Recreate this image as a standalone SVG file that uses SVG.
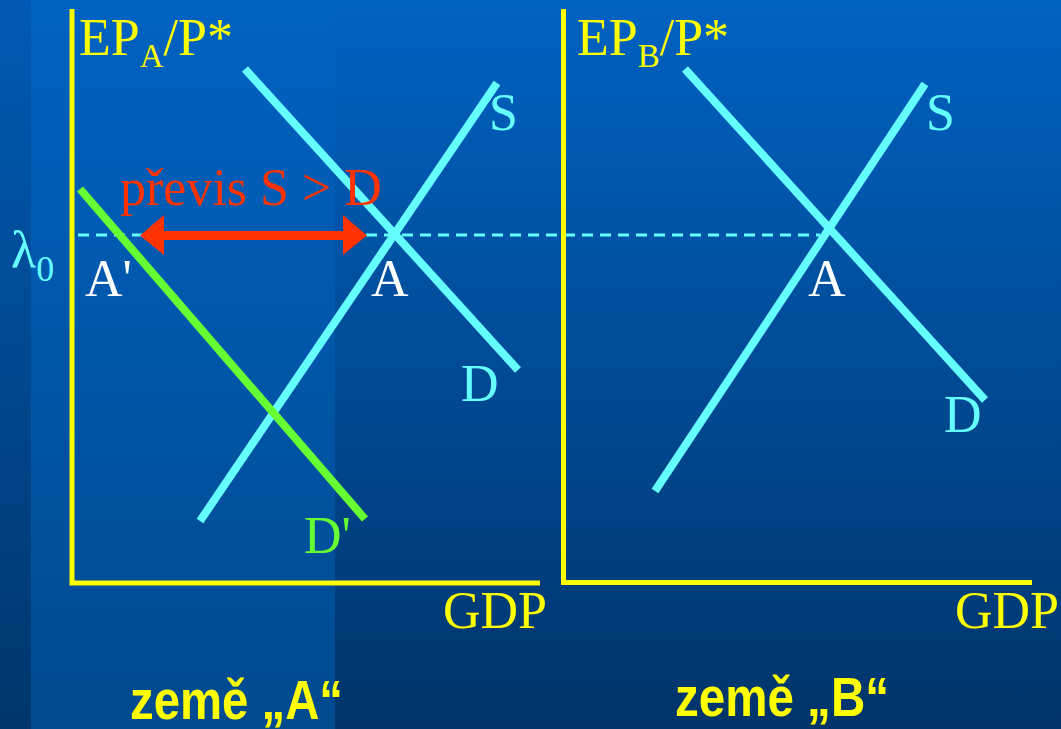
<svg xmlns="http://www.w3.org/2000/svg" width="1061" height="729" viewBox="0 0 1061 729">
  <defs>
    <linearGradient id="bg" x1="0" y1="0" x2="0" y2="1">
      <stop offset="0" stop-color="#0062c2"/>
      <stop offset="1" stop-color="#00346a"/>
    </linearGradient>
    <linearGradient id="panel" x1="0" y1="0" x2="0" y2="1">
      <stop offset="0" stop-color="#0062c2"/>
      <stop offset="1" stop-color="#004a8e"/>
    </linearGradient>
    <linearGradient id="band" x1="0" y1="0" x2="0" y2="1">
      <stop offset="0" stop-color="#005ab4"/>
      <stop offset="1" stop-color="#00366c"/>
    </linearGradient>
  </defs>
  <style>
    .axis { stroke: #ffff00; stroke-width: 5; fill: none; }
    .curve { stroke: #66ffff; stroke-width: 8; fill: none; }
    .green { stroke: #66ff33; stroke-width: 8; fill: none; }
    .dash { stroke: #66ffff; stroke-width: 3; stroke-dasharray: 11 7; fill: none; }
    .serif { font-family: "Liberation Serif", "Times New Roman", serif; font-size: 52px; }
    .bold { font-family: "Liberation Sans", Arial, sans-serif; font-weight: bold; font-size: 55px; fill: #ffff00; }
    .yel { fill: #ffff00; }
    .cy { fill: #66ffff; }
    .wh { fill: #ffffff; }
    .gr { fill: #66ff33; }
    .red { fill: #ff3300; }
  </style>

  <g id="background">
    <rect x="0" y="0" width="1061" height="729" fill="url(#bg)"/>
    <rect x="0" y="0" width="31" height="729" fill="url(#band)"/>
    <rect x="31" y="0" width="304" height="729" fill="url(#panel)"/>
  </g>

  <g id="connectors">
    <line id="lambda-level" class="dash" x1="78" y1="235" x2="820" y2="235"/>
    <g id="axes-A">
      <polyline class="axis" points="72,9 72,583 540,583"/>
    </g>
    <g id="axes-B">
      <polyline class="axis" points="563.5,9 563.5,582.5 1032,582.5"/>
    </g>
    <line id="S-A" class="curve" x1="200" y1="521" x2="497" y2="83"/>
    <line id="D-A" class="curve" x1="245" y1="69" x2="518" y2="370"/>
    <line id="Dp-A" class="green" x1="80" y1="189" x2="365" y2="519"/>
    <line id="S-B" class="curve" x1="655" y1="491" x2="925" y2="84"/>
    <line id="D-B" class="curve" x1="685" y1="69" x2="985" y2="400"/>
    <g id="surplus-arrow" fill="#ff3300">
      <rect x="160" y="231" width="187" height="9"/>
      <polygon points="140,235.5 164,215 164,255"/>
      <polygon points="367,235.5 343,215 343,255"/>
    </g>
  </g>

  <g id="label-yaxis-A">
    <text class="serif yel" x="79" y="55" font-size="51">EP<tspan font-size="33" dy="12">A</tspan><tspan dy="-12">/P*</tspan></text>
  </g>
  <g id="label-yaxis-B">
    <text class="serif yel" x="577" y="55" font-size="51">EP<tspan font-size="33" dy="12">B</tspan><tspan dy="-12">/P*</tspan></text>
  </g>
  <g id="label-lambda">
    <text class="serif cy" x="11" y="267" font-size="58">λ<tspan font-size="36" dy="14">0</tspan></text>
  </g>
  <g id="label-surplus">
    <text class="serif red" x="120" y="205" font-size="54.5">převis S &gt; D</text>
  </g>
  <g id="node-S-A"><text class="serif cy" x="489" y="130">S</text></g>
  <g id="node-D-A"><text class="serif cy" x="461" y="401">D</text></g>
  <g id="node-Dp-A"><text class="serif gr" x="304" y="553">D'</text></g>
  <g id="node-A-left"><text class="serif wh" x="371" y="296">A</text></g>
  <g id="node-Ap"><text class="serif wh" x="85" y="296">A'</text></g>
  <g id="node-GDP-A"><text class="serif yel" x="443" y="628">GDP</text></g>
  <g id="node-S-B"><text class="serif cy" x="926" y="130">S</text></g>
  <g id="node-D-B"><text class="serif cy" x="944" y="432">D</text></g>
  <g id="node-A-right"><text class="serif wh" x="808" y="296">A</text></g>
  <g id="node-GDP-B"><text class="serif yel" x="955" y="628">GDP</text></g>
  <g id="title-A"><text class="bold" x="130" y="719" textLength="213" lengthAdjust="spacingAndGlyphs">země „A“</text></g>
  <g id="title-B"><text class="bold" x="675" y="716" textLength="214" lengthAdjust="spacingAndGlyphs">země „B“</text></g>
</svg>
